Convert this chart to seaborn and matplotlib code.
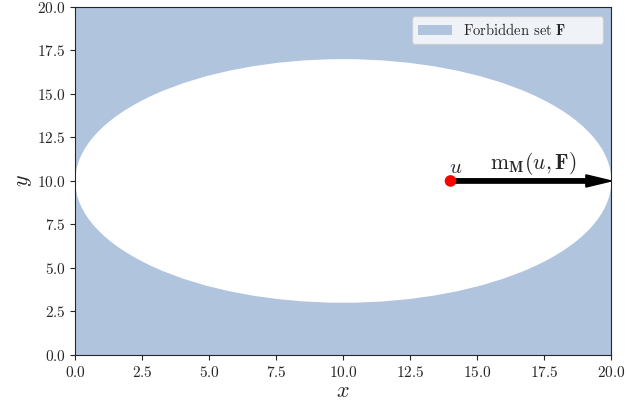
import numpy as np
import matplotlib
matplotlib.use("Agg")
import matplotlib.pyplot as plt
from matplotlib.patches import Ellipse, Rectangle
import seaborn as sns
import pandas as pd

# domain and forbidden set (outside of ellipse)
x_range = [0.0, 20.0]
y_range = [0.0, 20.0]
ellipse_center = (10.0, 10.0)
ellipse_width = 20.0
ellipse_height = 14.0

# point u and the arrow tip (projection onto F)
point_u = pd.DataFrame({'x': [14.0], 'y': [10.0]})
arrow_tip = (20.0, 10.0)

fill_color = '#b0c4de'

sns.set_style('ticks')
plt.rcParams['font.family'] = ['cmr10', 'DejaVu Serif']
plt.rcParams['mathtext.fontset'] = 'cm'
plt.rcParams['axes.unicode_minus'] = False
plt.rcParams['axes.formatter.use_mathtext'] = True

fig, ax = plt.subplots(figsize=(6.27, 4.08), dpi=100)

ax.add_patch(Rectangle((x_range[0], y_range[0]), x_range[1] - x_range[0], y_range[1] - y_range[0],
                       facecolor=fill_color, edgecolor='none',
                       label=r'Forbidden set $\mathbf{F}$', zorder=0))
ax.add_patch(Ellipse(ellipse_center, ellipse_width, ellipse_height, facecolor='white', edgecolor='none', zorder=1))

ux, uy = point_u['x'][0], point_u['y'][0]
ax.arrow(ux, uy, arrow_tip[0] - ux, arrow_tip[1] - uy, width=0.25, head_width=0.7, head_length=0.95,
         length_includes_head=True, color='black', zorder=3)
sns.scatterplot(data=point_u, x='x', y='y', color='red', s=70, edgecolor='none', zorder=4, ax=ax)

ax.text(ux + 0.2, uy + 0.2, r'$u$', fontsize=15, ha='center', va='bottom')
ax.text(17.1, uy + 0.2, r'$\mathrm{m}_{\mathbf{M}}(u, \mathbf{F})$', fontsize=15.5, ha='center', va='bottom')

ax.set_xlim(x_range)
ax.set_ylim(y_range)
ax.set_xticks(np.arange(0, 20.1, 2.5))
ax.set_yticks(np.arange(0, 20.1, 2.5))
ax.tick_params(labelsize=11)
ax.set_xlabel(r'$x$', fontsize=16, labelpad=1)
ax.set_ylabel(r'$y$', fontsize=16, labelpad=2)
ax.legend(loc='upper left', bbox_to_anchor=(0.629, 0.899, 0.356, 0.075), mode='expand',
          borderaxespad=0, fontsize=10.5, handlelength=2.3)

plt.subplots_adjust(left=0.12, right=0.975, top=0.983, bottom=0.13)
plt.savefig('out.png', dpi=100)
